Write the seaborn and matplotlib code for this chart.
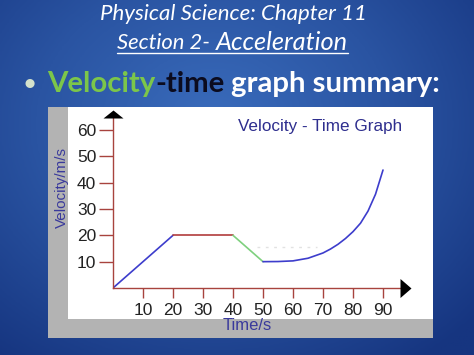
import numpy as np
import pandas as pd
import matplotlib
matplotlib.use("Agg")
import matplotlib.pyplot as plt
import seaborn as sns
from matplotlib.patches import Rectangle
from matplotlib.lines import Line2D
from matplotlib.colors import LinearSegmentedColormap

# ---------------- data ----------------
ramp_t = [0, 20]
ramp_v = [0, 20]
const_t = [20, 40]
const_v = [20, 20]
decel_t = [40, 50]
decel_v = [20, 10]
accel_t = [50, 55, 60, 65, 70, 72.5, 75, 77.5, 80, 82.5, 85, 87.5, 90]
accel_v = [10, 10.05, 10.3, 11.3, 13.3, 14.8, 16.6, 18.8, 21.4, 24.6, 29.2, 35.6, 44.8]
guide_t = [48, 68]
guide_v = [15.5, 15.5]
x_ticks = [10, 20, 30, 40, 50, 60, 70, 80, 90]
y_ticks = [10, 20, 30, 40, 50, 60]

slide_title = "Physical Science: Chapter 11"
subtitle_parts = ["Section 2-", "Acceleration"]
bullet_parts = ["\u2022", "Velocity", "-time", "graph summary:"]
chart_title = "Velocity - Time Graph"
x_label = "Time/s"
y_label = "Velocity/m/s"

# ---------------- style ----------------
sns.set_theme(style="white")
plt.rcParams['font.family'] = ['Liberation Sans', 'DejaVu Sans']

W, H = 474, 355
fig = plt.figure(figsize=(W / 100, H / 100), dpi=100)
r = fig.canvas.get_renderer()


def fx(px):
    return px / W


def fy(py):
    return 1 - py / H


# background gradient
bg = fig.add_axes([0, 0, 1, 1], zorder=-5)
yy, xx = np.mgrid[0:1:200j, 0:1:260j]
d = np.sqrt(((xx - 0.45) / 1.0) ** 2 + ((yy - 0.35) / 1.1) ** 2)
d = np.clip(d / 0.75, 0, 1)
cmap = LinearSegmentedColormap.from_list("bg", ["#3a6cbc", "#2a54a2", "#163580"])
bg.imshow(d, cmap=cmap, extent=[0, 1, 0, 1], origin="upper", aspect="auto")
bg.set_xlim(0, 1)
bg.set_ylim(0, 1)
bg.axis("off")

bg.add_patch(Rectangle((fx(48), fy(338)), fx(433) - fx(48), fy(107) - fy(338),
                       transform=bg.transAxes, facecolor="#b3b3b3", edgecolor="none", zorder=2))
bg.add_patch(Rectangle((fx(68), fy(319)), fx(433) - fx(68), fy(107) - fy(319),
                       transform=bg.transAxes, facecolor="white", edgecolor="none", zorder=3))

# main axes
x0p, x1p, y0p, y1p = 113, 400, 288, 118
ax = fig.add_axes([fx(x0p), fy(y0p), fx(x1p) - fx(x0p), fy(y1p) - fy(y0p)])
ax.set_facecolor("none")

axis_col = "#a8433e"
ax.set_xlim(0, (x1p - x0p) / 3.0)
ax.set_ylim(0, (y0p - y1p) / (158 / 60))

sns.lineplot(data=pd.DataFrame({"t": ramp_t, "v": ramp_v}), x="t", y="v", ax=ax,
             color="#3d3dcc", lw=1.2, estimator=None, sort=False)
sns.lineplot(data=pd.DataFrame({"t": const_t, "v": const_v}), x="t", y="v", ax=ax,
             color="#b23c3c", lw=1.2, estimator=None, sort=False)
sns.lineplot(data=pd.DataFrame({"t": decel_t, "v": decel_v}), x="t", y="v", ax=ax,
             color="#7ed07e", lw=1.2, estimator=None, sort=False)
sns.lineplot(data=pd.DataFrame({"t": accel_t, "v": accel_v}), x="t", y="v", ax=ax,
             color="#3d3dcc", lw=1.2, estimator=None, sort=False)
ax.plot(guide_t, guide_v, color="#e2e2e2", lw=1, dashes=(2, 4))

for s in ["top", "right"]:
    ax.spines[s].set_visible(False)
for s in ["left", "bottom"]:
    ax.spines[s].set_color(axis_col)
    ax.spines[s].set_linewidth(1.0)

ax.set_xticks(x_ticks)
ax.set_yticks(y_ticks)
ax.set_xticklabels([str(v) for v in x_ticks])
ax.set_yticklabels([str(v) for v in y_ticks])
ax.tick_params(axis="y", direction="out", length=10, width=1, color=axis_col,
               pad=2, labelsize=12.5, labelcolor="#222222", left=True)
ax.tick_params(axis="x", direction="out", length=7, width=1, color=axis_col,
               pad=3.5, labelsize=12.5, labelcolor="#222222", bottom=True)
ax.set_xlabel("")
ax.set_ylabel("")
ax.grid(False)

# arrow heads at axis ends
ax.plot([0], [1], transform=ax.transAxes, marker=[(-10, 0), (10, 0), (0, 8), (-10, 0)],
        ms=20 / 1.389, color="black", mew=0, clip_on=False, zorder=5)
ax.plot([1], [0], transform=ax.transAxes, marker=[(0, -9.5), (0, 9.5), (11, 0), (0, -9.5)],
        ms=22 / 1.389, color="black", mew=0, clip_on=False, zorder=5)

# chart texts
navy = "#2e2e8e"
fig.text(fx(320), fy(127), chart_title, ha="center", va="center", fontsize=12.3, color=navy)
fig.text(fx(62), fy(188), y_label, ha="center", va="center", rotation=90, fontsize=11, color="#3a3a9c")
fig.text(fx(247), fy(325), x_label, ha="center", va="center", fontsize=12, color="#3a3a9c")


def fit_text(txt, left_px, right_px, y_px, size0=16, **kw):
    t = fig.text(fx(left_px), fy(y_px), txt, ha="left", va="center", fontsize=size0, **kw)
    e = t.get_window_extent(r)
    t.set_fontsize(size0 * (right_px - left_px) / e.width)
    return t


lato = ["Lato", "DejaVu Sans"]
fit_text(slide_title, 100, 367, 14, color="white", style="italic", family=lato)
fit_text(subtitle_parts[0], 117, 210, 43, color="white", style="italic", family=lato)
fit_text(subtitle_parts[1], 216, 348, 42, color="white", style="italic", family=lato)
fig.add_artist(Line2D([fx(117), fx(348)], [fy(52.5), fy(52.5)], transform=fig.transFigure,
                      color="white", lw=1))

bullet_cols = ["#d4e2cc", "#7cc64a", "#0b0b1e", "white"]
fig.text(fx(30), fy(84), bullet_parts[0], ha="center", va="center", fontsize=15,
         fontweight="bold", color=bullet_cols[0], family=lato)
tmp = fig.text(0, 0, "Velocity-time graph summary:", fontsize=20, fontweight="bold", family=lato)
scale = (441 - 47) / tmp.get_window_extent(r).width
tmp.remove()
fs = 20 * scale
space_px = 0.23 * fs * 100 / 72
xpix = 47
for txt, col, gap in zip(bullet_parts[1:], bullet_cols[1:], [0, space_px, 0]):
    t = fig.text(fx(xpix), fy(84), txt, ha="left", va="center", fontsize=fs,
                 fontweight="bold", color=col, family=lato)
    xpix = t.get_window_extent(r).x1 + gap

fig.savefig("out.png", dpi=100)
